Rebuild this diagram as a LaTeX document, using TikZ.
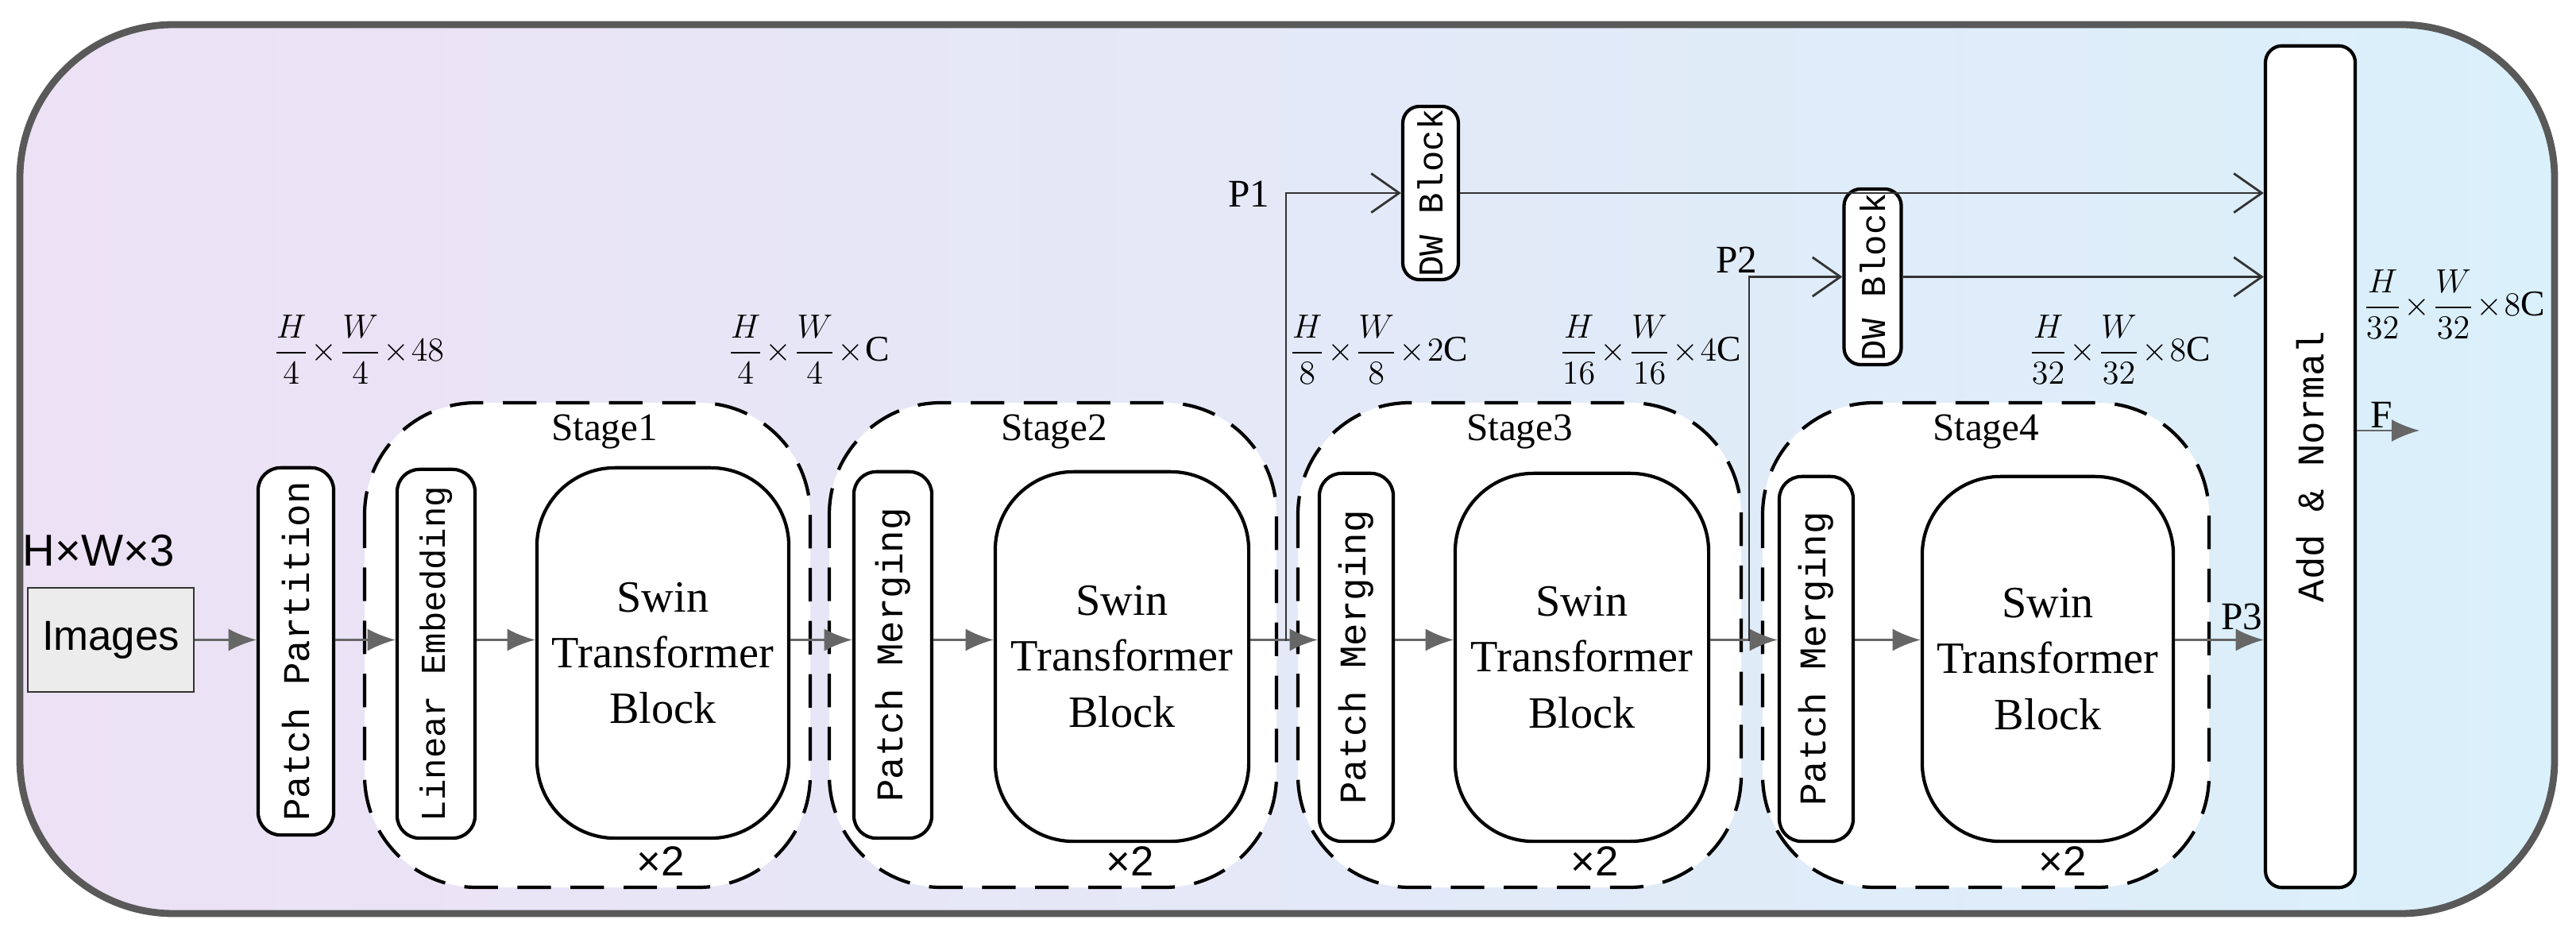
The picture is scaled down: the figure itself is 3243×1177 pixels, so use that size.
\documentclass[tikz,border=0pt]{standalone}
\usepackage{fontspec}
\usepackage{amsmath}
\setmainfont{Liberation Serif}
\newfontfamily\monof{Liberation Mono}
\newfontfamily\sansf{Liberation Sans}
\usetikzlibrary{arrows.meta}
\newcommand{\tm}{\!\times\!}
\begin{document}
\begin{tikzpicture}[x=0.01cm,y=-0.01cm,
  vbox/.style={draw,very thick,fill=white,rounded corners=8pt},
  vtext/.style={rotate=90,font=\monof\fontsize{13.5}{16}\selectfont},
  swin/.style={draw,very thick,fill=white,rounded corners=28pt,align=center,font=\fontsize{16}{20}\selectfont},
  stage/.style={draw,very thick,dashed,dash pattern=on 12pt off 7pt,fill=white,rounded corners=40pt},
  ga/.style={draw=black!60,thick,-{Latex[length=10pt,width=8pt]}},
  oa/.style={draw=black!80,thick,-{Straight Barb[length=10pt,width=14pt]}},
  lab/.style={font=\fontsize{14}{16}\selectfont},
  dim/.style={font=\fontsize{13}{15}\selectfont,inner sep=0pt}]
\useasboundingbox (0,0) rectangle (3243,1177);
\definecolor{bgl}{RGB}{237,225,245}
\definecolor{bgr}{RGB}{218,240,250}
\path[draw=black!65,line width=2.5pt,rounded corners=55pt,left color=bgl,right color=bgr] (25,31) rectangle (3216,1150);
% stages
\draw[stage] (459,507) rectangle (1020,1117);
\draw[stage] (1044,507) rectangle (1607,1117);
\draw[stage] (1634,507) rectangle (2192,1117);
\draw[stage] (2219,507) rectangle (2781,1117);
\node[lab] (s1) at (761,544) {Stage1};
\node[lab] (s2) at (1327,544) {Stage2};
\node[lab] (s3) at (1913,544) {Stage3};
\node[lab] (s4) at (2500,544) {Stage4};
\node[font=\sansf\fontsize{15}{17}\selectfont] (x1) at (832,1084) {×2};
\node[font=\sansf\fontsize{15}{17}\selectfont] (x2) at (1423,1084) {×2};
\node[font=\sansf\fontsize{15}{17}\selectfont] (x3) at (2008,1084) {×2};
\node[font=\sansf\fontsize{15}{17}\selectfont] (x4) at (2597,1084) {×2};
% boxes
\node[draw=black!80,thick,fill=gray!15,minimum width=2.09cm,minimum height=1.31cm,font=\sansf\fontsize{15}{17}\selectfont] (img) at (139.5,805.5) {Images};
\node[font=\sansf\fontsize{16}{18}\selectfont] (hw3) at (124,693) {H×W×3};
\node[vbox,minimum width=0.95cm,minimum height=4.62cm] (pp) at (372.5,820) {};
\node[vtext] at (pp) {Patch Partition};
\node[vbox,minimum width=0.98cm,minimum height=4.64cm] (le) at (549,823) {};
\node[vtext,font=\monof\fontsize{12.5}{14}\selectfont] at (le) {Linear Embedding};
\node[swin,minimum width=3.17cm,minimum height=4.66cm] (sw1) at (834.5,822) {Swin\\Transformer\\Block};
\node[vbox,minimum width=0.98cm,minimum height=4.61cm] (pm2) at (1124,824.5) {};
\node[vtext] at (pm2) {Patch Merging};
\node[swin,minimum width=3.19cm,minimum height=4.65cm] (sw2) at (1412.5,826.5) {Swin\\Transformer\\Block};
\node[vbox,minimum width=0.93cm,minimum height=4.63cm] (pm3) at (1707.5,827.5) {};
\node[vtext] at (pm3) {Patch Merging};
\node[swin,minimum width=3.19cm,minimum height=4.63cm] (sw3) at (1991.5,827.5) {Swin\\Transformer\\Block};
\node[vbox,minimum width=0.93cm,minimum height=4.59cm] (pm4) at (2286.5,829.5) {};
\node[vtext] at (pm4) {Patch Merging};
\node[swin,minimum width=3.16cm,minimum height=4.59cm] (sw4) at (2578,829.5) {Swin\\Transformer\\Block};
\node[vbox,rounded corners=6pt,minimum width=1.13cm,minimum height=10.59cm] (an) at (2908.5,587.5) {};
\node[vtext] at (an) {Add \& Normal};
\node[vbox,rounded corners=6pt,minimum width=0.70cm,minimum height=2.18cm] (dw1) at (1801,243) {};
\node[vtext,font=\monof\fontsize{12.5}{14}\selectfont] at (dw1) {DW Block};
\node[vbox,rounded corners=6pt,minimum width=0.72cm,minimum height=2.21cm] (dw2) at (2357.5,348.5) {};
\node[vtext,font=\monof\fontsize{12.5}{14}\selectfont] at (dw2) {DW Block};
% main arrows
\draw[ga] (img.east) -- (pp.west|-img.east);
\draw[ga] (pp.east|-img.east) -- (le.west|-img.east);
\draw[ga] (le.east|-img.east) -- (sw1.west|-img.east);
\draw[ga] (sw1.east|-img.east) -- (pm2.west|-img.east);
\draw[ga] (pm2.east|-img.east) -- (sw2.west|-img.east);
\draw[ga] (sw2.east|-img.east) -- (pm3.west|-img.east);
\draw[ga] (pm3.east|-img.east) -- (sw3.west|-img.east);
\draw[ga] (sw3.east|-img.east) -- (pm4.west|-img.east);
\draw[ga] (pm4.east|-img.east) -- (sw4.west|-img.east);
\draw[ga] (sw4.east|-img.east) -- (an.west|-img.east);
\node[lab] (p3) at (2822,776) {P3};
\coordinate (f1) at (3046,542);
\draw[ga] (an.east|-f1) -- (f1);
\node[lab] (fl) at (2998,522) {F};
% branches
\coordinate (b1) at (1619,807);
\coordinate (b2) at (2202,807);
\draw[oa] (b1) |- (dw1.west);
\node[lab] (p1) at (1572,244) {P1};
\draw[oa] (dw1.east) -- (an.west|-dw1.east);
\draw[oa] (b2) |- (dw2.west);
\node[lab] (p2) at (2186,327) {P2};
\draw[oa] (dw2.east) -- (an.west|-dw2.east);
% dims
\node[dim,anchor=west] (d1) at (343,440) {$\dfrac{H}{4}\tm\dfrac{W}{4}\tm 48$};
\node[dim,anchor=west] (d2) at (915,440) {$\dfrac{H}{4}\tm\dfrac{W}{4}\tm \mathrm{C}$};
\node[dim,anchor=west] (d3) at (1622,440) {$\dfrac{H}{8}\tm\dfrac{W}{8}\tm 2\mathrm{C}$};
\node[dim,anchor=west] (d4) at (1962,440) {$\dfrac{H}{16}\tm\dfrac{W}{16}\tm 4\mathrm{C}$};
\node[dim,anchor=west] (d5) at (2553,440) {$\dfrac{H}{32}\tm\dfrac{W}{32}\tm 8\mathrm{C}$};
\node[dim,anchor=west] (d6) at (2974,383) {$\dfrac{H}{32}\tm\dfrac{W}{32}\tm 8\mathrm{C}$};
\end{tikzpicture}
\end{document}
